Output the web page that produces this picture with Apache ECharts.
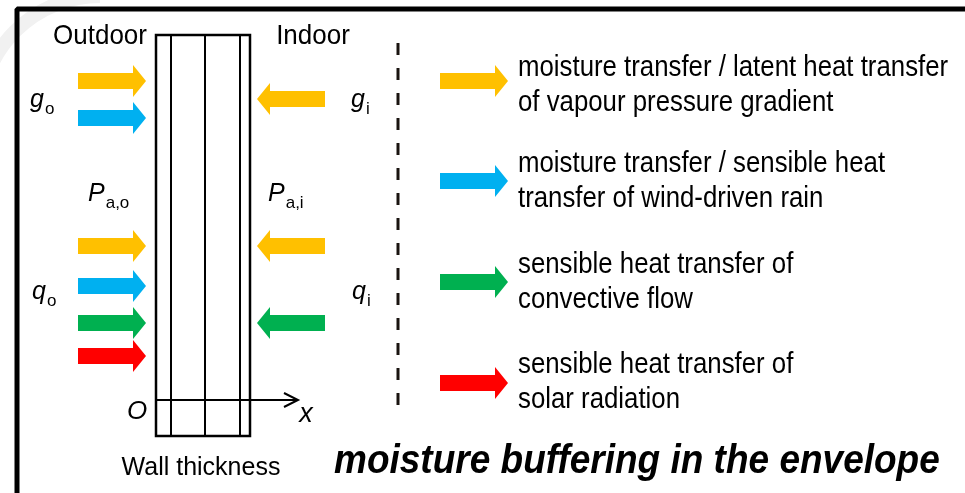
<!DOCTYPE html>
<html>
<head>
<meta charset="utf-8">
<script src="https://cdn.jsdelivr.net/npm/echarts@6/dist/echarts.min.js"></script>
<style>
  html, body { margin: 0; padding: 0; background: #fff; }
  #chart { width: 965px; height: 493px; }
</style>
</head>
<body>
<div id="chart"></div>
<script>
// flows: yellow = vapour pressure, blue = wind-driven rain, green = convection, red = solar
const flowColors = ['#FFC000', '#00B0F0', '#00B050', '#FF0000']
const legendText = [
  ['moisture transfer / latent heat transfer', 'of vapour pressure gradient'],
  ['moisture transfer / sensible heat', 'transfer of wind-driven rain'],
  ['sensible heat transfer of', 'convective flow'],
  ['sensible heat transfer of', 'solar radiation']
]
const legendY = [81, 181, 282, 383]
const legendTextY = [68, 164, 265, 365]
const legendArrowX = [440, 508]
const legendTextX = 518

const outdoorFlow = [0, 1, 0, 1, 2, 3]
const outdoorY = [81, 118, 246, 286, 323, 356]
const outdoorX = [78, 146]
const indoorFlow = [0, 0, 2]
const indoorY = [99, 246, 323]
const indoorX = [325, 257]

const wallEdges = [156, 171, 205, 240, 250]
const wallSpan = [35, 436]
const axisY = 400
const axisEnd = 298

const sideNames = ['Outdoor', 'Indoor']
const sideX = [100, 313]
const sideY = 36

const symbols = [['g', 'o'], ['g', 'i'], ['P', 'a,o'], ['P', 'a,i'], ['q', 'o'], ['q', 'i']]
const symbolX = [30, 351, 88, 268, 32, 352]
const symbolBase = [109, 109, 203, 203, 301, 301]

const titleText = 'moisture buffering in the envelope'

const SANS = '"Liberation Sans", Arial, sans-serif'
const measureCtx = document.createElement('canvas').getContext('2d')
const textWidth = (text, font) => {
  measureCtx.font = font
  return measureCtx.measureText(text).width
}

const arrowItems = [
  ...outdoorY.map((y, i) => [outdoorX[0], outdoorX[1], y, outdoorFlow[i]]),
  ...indoorY.map((y, i) => [indoorX[0], indoorX[1], y, indoorFlow[i]]),
  ...legendY.map((y, i) => [legendArrowX[0], legendArrowX[1], y, i])
]

const labelItems = [
  ...sideNames.map((t, i) => ({pos: [sideX[i], sideY], text: t, font: `26px ${SANS}`, align: 'center', sy: 1.05})),
  {pos: [201, 468], text: 'Wall thickness', font: `25px ${SANS}`, align: 'center', sy: 1.05},
  {pos: [137, 412], text: 'O', font: `italic 26px ${SANS}`, align: 'center', sy: 1},
  {pos: [306, 414], text: 'x', font: `italic 27px ${SANS}`, align: 'center', sy: 1},
  {pos: [334, 462], text: titleText, font: `italic bold 37px ${SANS}`, align: 'left', sy: 1.08},
  ...legendText.flatMap((lines, i) => lines.map((t, j) => ({
    pos: [legendTextX, legendTextY[i] + j * 35], text: t, font: `25.8px ${SANS}`, align: 'left', sy: 1.12
  })))
]

const renderArrow = (params, api) => {
  const tail = api.coord([api.value(0), api.value(2)])
  const tip = api.coord([api.value(1), api.value(2)])
  const dir = tip[0] > tail[0] ? 1 : -1
  const neck = tip[0] - dir * 13
  const y = tip[1]
  return {
    type: 'polygon',
    shape: {points: [[tail[0], y - 8], [neck, y - 8], [neck, y - 16], [tip[0], y], [neck, y + 16], [neck, y + 8], [tail[0], y + 8]]},
    style: {fill: flowColors[api.value(3)]}
  }
}

const renderLabel = (params, api) => {
  const item = labelItems[params.dataIndex]
  const p = api.coord([api.value(0), api.value(1)])
  return {
    type: 'text', x: p[0], y: p[1], scaleY: item.sy,
    style: {text: item.text, font: item.font, fill: '#000', align: item.align, verticalAlign: 'middle'}
  }
}

// main letter italic, subscript dropped below its baseline
const renderSymbol = (params, api) => {
  const [main, sub] = symbols[params.dataIndex]
  const p = api.coord([api.value(0), api.value(1)])
  const mainSize = 25
  const subSize = 17
  const mainFont = `italic ${mainSize}px ${SANS}`
  const subFont = `${subSize}px ${SANS}`
  const w = textWidth(main, mainFont)
  return {
    type: 'group',
    children: [
      {type: 'text', x: p[0], y: p[1] - 0.35 * mainSize, style: {text: main, font: mainFont, fill: '#000', align: 'left', verticalAlign: 'middle'}},
      {type: 'text', x: p[0] + w + 1, y: p[1] + 6 - 0.35 * subSize, style: {text: sub, font: subFont, fill: '#000', align: 'left', verticalAlign: 'middle'}}
    ]
  }
}

const chart = echarts.init(document.getElementById('chart'))

chart.setOption({
  animation: false,
  backgroundColor: '#fff',
  grid: {left: 0, right: 0, top: 0, bottom: 0},
  xAxis: {type: 'value', min: 0, max: 965, show: false},
  yAxis: {type: 'value', min: 0, max: 493, inverse: true, show: false},
  graphic: [{
    type: 'arc', z: 0, silent: true,
    shape: {cx: 100, cy: 116, r: 120, startAngle: Math.PI, endAngle: 1.5 * Math.PI},
    style: {stroke: '#f1f1f1', lineWidth: 14, fill: null}
  }],
  series: [
    {
      name: 'frame', type: 'line', silent: true, symbol: 'none',
      data: [[17, 493], [17, 9], [965, 9]],
      lineStyle: {color: '#000', width: 5}
    },
    {
      name: 'divider', type: 'line', silent: true, symbol: 'none',
      data: [[398, 43], [398, 418]],
      lineStyle: {color: '#1a1410', width: 3, type: [12, 13]}
    },
    {
      name: 'wall', type: 'custom', silent: true, clip: false,
      data: [[wallEdges[0], wallSpan[0], wallEdges[wallEdges.length - 1], wallSpan[1]]],
      renderItem: (params, api) => {
        const p0 = api.coord([api.value(0), api.value(1)])
        const p1 = api.coord([api.value(2), api.value(3)])
        return {
          type: 'rect',
          shape: {x: p0[0], y: p0[1], width: p1[0] - p0[0], height: p1[1] - p0[1]},
          style: {fill: 'none', stroke: '#000', lineWidth: 2.5}
        }
      }
    },
    {
      name: 'layers', type: 'custom', silent: true, clip: false,
      data: wallEdges.slice(1, -1).map(x => [x, wallSpan[0], wallSpan[1]]),
      renderItem: (params, api) => {
        const a = api.coord([api.value(0), api.value(1)])
        const b = api.coord([api.value(0), api.value(2)])
        return {type: 'line', shape: {x1: a[0], y1: a[1], x2: b[0], y2: b[1]}, style: {stroke: '#000', lineWidth: 2}}
      }
    },
    {
      name: 'x axis', type: 'custom', silent: true, clip: false,
      data: [[wallEdges[0], axisEnd, axisY]],
      renderItem: (params, api) => {
        const a = api.coord([api.value(0), api.value(2)])
        const b = api.coord([api.value(1), api.value(2)])
        return {
          type: 'group',
          children: [
            {type: 'line', shape: {x1: a[0], y1: a[1], x2: b[0], y2: b[1]}, style: {stroke: '#000', lineWidth: 2}},
            {type: 'polyline', shape: {points: [[b[0] - 14, b[1] - 7], [b[0], b[1]], [b[0] - 14, b[1] + 7]]}, style: {stroke: '#000', lineWidth: 2, fill: 'none'}}
          ]
        }
      }
    },
    {
      name: 'flows', type: 'custom', silent: true, clip: false,
      data: arrowItems,
      renderItem: renderArrow
    },
    {
      name: 'labels', type: 'custom', silent: true, clip: false,
      data: labelItems.map(d => d.pos),
      renderItem: renderLabel
    },
    {
      name: 'symbols', type: 'custom', silent: true, clip: false,
      data: symbolX.map((x, i) => [x, symbolBase[i]]),
      renderItem: renderSymbol
    }
  ]
})
</script>
</body>
</html>
